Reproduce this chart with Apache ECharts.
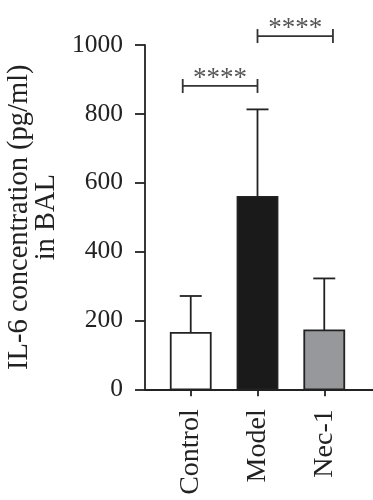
<!DOCTYPE html>
<html>
<head>
<meta charset="utf-8">
<script src="https://cdn.jsdelivr.net/npm/echarts@6/dist/echarts.min.js"></script>
<style>html,body{margin:0;padding:0;background:#fff}#c{width:373px;height:500px}</style>
</head>
<body>
<div id="c"></div>
<script>
var categories = ['Control', 'Model', 'Nec-1'];
var means = [164, 559, 171];
var errorTops = [271, 813, 322];
var barColors = ['#ffffff', '#1a1a1a', '#97989b'];
var yTicks = [0, 200, 400, 600, 800, 1000];
// brackets: [start position, end position, height, label]
var brackets = [[-0.12, 1, 881, '****'], [1, 2.13, 1026, '****']];

var FONT = 'Liberation Serif';
var chart = echarts.init(document.getElementById('c'));

var barData = means.map(function (v, i) { return [i, v]; });
var errData = means.map(function (v, i) { return [i, v, errorTops[i]]; });

chart.setOption({
  animation: false,
  grid: { left: 145, right: 0, top: 45, bottom: 110.7, containLabel: false, outerBoundsMode: 'none' },
  xAxis: {
    type: 'value', min: -0.685, max: 2.73, scale: true,
    splitLine: { show: false },
    axisLine: { show: true, onZero: false, lineStyle: { color: '#222', width: 1.8 } },
    axisTick: { show: true, customValues: [0, 1, 2], length: 7, lineStyle: { color: '#222', width: 1.8 } },
    axisLabel: {
      customValues: [0, 1, 2], rotate: 90, margin: 20,
      fontFamily: FONT, fontSize: 28, color: '#222',
      formatter: function (v) { return categories[Math.round(v)]; }
    }
  },
  yAxis: {
    type: 'value', min: 0, max: 1000, interval: 200,
    splitLine: { show: false },
    axisLine: { show: true, onZero: false, lineStyle: { color: '#222', width: 1.8 } },
    axisTick: { show: true, length: 10, inside: false, lineStyle: { color: '#222', width: 1.8 } },
    axisLabel: {
      margin: 22, fontFamily: FONT, fontSize: 25.5, color: '#222',
      formatter: function (v) { return String(v); }
    },
    name: 'IL-6 concentration (pg/ml)\nin BAL',
    nameLocation: 'middle', nameRotate: 90, nameGap: 84,
    nameTextStyle: { fontFamily: FONT, fontSize: 28.5, color: '#222', lineHeight: 27 }
  },
  series: [
    {
      type: 'custom', data: barData, clip: false, z: 2,
      renderItem: function (params, api) {
        var x = api.value(0);
        var top = api.coord([x, api.value(1)]);
        var base = api.coord([x, 0]);
        return {
          type: 'rect',
          shape: { x: top[0] - 20, y: top[1], width: 40, height: base[1] - top[1] },
          style: { fill: barColors[params.dataIndex], stroke: '#222', lineWidth: 1.8 }
        };
      }
    },
    {
      type: 'custom', data: errData, clip: false, z: 1,
      renderItem: function (params, api) {
        var x = api.value(0);
        var p0 = api.coord([x, api.value(1)]);
        var p1 = api.coord([x, api.value(2)]);
        return {
          type: 'group',
          children: [
            { type: 'line', shape: { x1: p0[0], y1: p0[1], x2: p1[0], y2: p1[1] }, style: { stroke: '#222', lineWidth: 1.8 } },
            { type: 'line', shape: { x1: p1[0] - 11, y1: p1[1], x2: p1[0] + 11, y2: p1[1] }, style: { stroke: '#222', lineWidth: 1.8 } }
          ]
        };
      }
    },
    {
      type: 'custom', data: brackets, clip: false,
      renderItem: function (params, api) {
        var a = api.coord([api.value(0), api.value(2)]);
        var b = api.coord([api.value(1), api.value(2)]);
        var lbl = brackets[params.dataIndex][3];
        return {
          type: 'group',
          children: [
            { type: 'line', shape: { x1: a[0], y1: a[1], x2: b[0], y2: b[1] }, style: { stroke: '#333', lineWidth: 1.8 } },
            { type: 'line', shape: { x1: a[0], y1: a[1] - 7, x2: a[0], y2: a[1] + 7 }, style: { stroke: '#333', lineWidth: 1.8 } },
            { type: 'line', shape: { x1: b[0], y1: b[1] - 7, x2: b[0], y2: b[1] + 7 }, style: { stroke: '#333', lineWidth: 1.8 } },
            { type: 'text', style: { x: (a[0] + b[0]) / 2, y: a[1] + 6, text: lbl, fontFamily: FONT, fontSize: 27, fill: '#555', align: 'center', verticalAlign: 'bottom' } }
          ]
        };
      }
    }
  ]
});
</script>
</body>
</html>
